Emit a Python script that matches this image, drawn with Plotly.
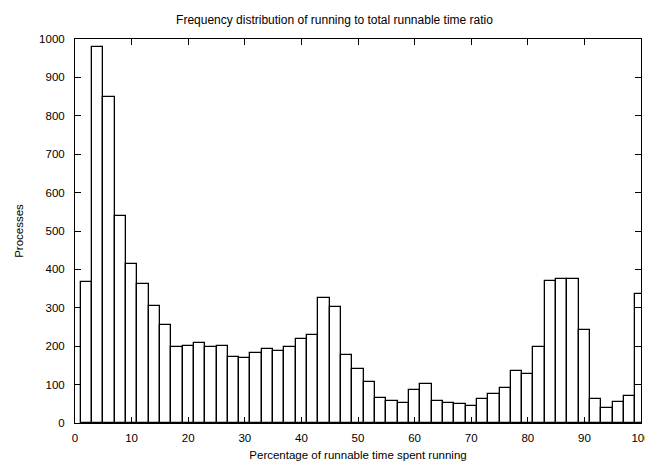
import plotly.graph_objects as go

bin_centers = list(range(2, 101, 2))
processes = [366, 979, 850, 540, 413, 361, 304, 254, 198, 200,
             209, 198, 201, 172, 169, 182, 194, 187, 199, 220,
             228, 325, 303, 178, 140, 106, 64, 58, 51, 85,
             102, 58, 52, 49, 45, 62, 76, 90, 136, 128,
             198, 371, 376, 376, 242, 62, 40, 54, 71, 336]
x_ticks = [0, 10, 20, 30, 40, 50, 60, 70, 80, 90, 100]
y_ticks = [0, 100, 200, 300, 400, 500, 600, 700, 800, 900, 1000]

FONT = "Liberation Sans, Arial, Helvetica, sans-serif"

fig = go.Figure(go.Bar(
    x=bin_centers, y=processes, width=2,
    marker=dict(color="white", line=dict(color="black", width=1.3)),
))

fig.update_layout(
    width=653, height=462,
    margin=dict(l=66, r=10, t=31, b=43),
    paper_bgcolor="white", plot_bgcolor="white",
    bargap=0, showlegend=False,
    font=dict(family=FONT, size=11.5, color="black"),
    title=dict(text="Frequency distribution of running to total runnable time ratio",
               x=0.5, xref="container", xanchor="center",
               y=1 - 12 / 462, yref="container", yanchor="middle",
               font=dict(family=FONT, size=12, color="black")),
)
fig.update_xaxes(
    range=[0, 100], tickvals=x_ticks, ticktext=[str(v) for v in x_ticks],
    ticks="inside", ticklen=6, tickcolor="black", tickwidth=1,
    ticklabelstandoff=4,
    showline=True, linecolor="black", linewidth=1, mirror="allticks",
    showgrid=False, zeroline=False,
    title=dict(text="Percentage of runnable time spent running", standoff=8,
               font=dict(family=FONT, size=11.5)),
)
fig.update_yaxes(
    range=[0, 1000], tickvals=y_ticks, ticktext=[str(v) for v in y_ticks],
    ticks="inside", ticklen=6, tickcolor="black", tickwidth=1,
    ticklabelstandoff=7,
    showline=True, linecolor="black", linewidth=1, mirror="allticks",
    showgrid=False, zeroline=False,
    title=dict(text="Processes", standoff=13, font=dict(family=FONT, size=11.5)),
)

fig.write_html("out.html")
